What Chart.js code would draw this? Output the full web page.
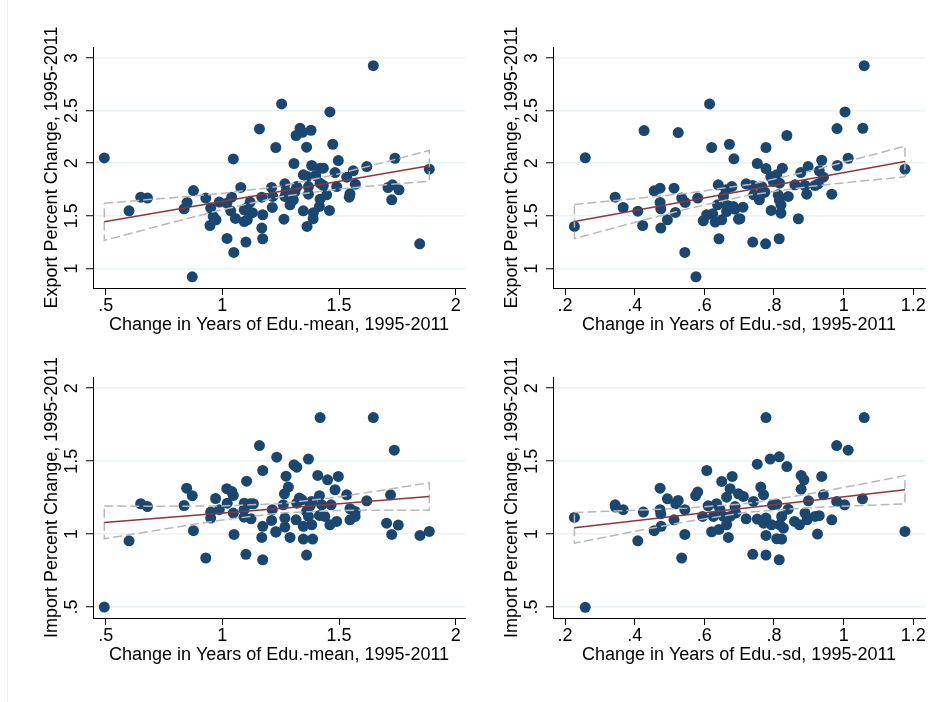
<!DOCTYPE html>
<html>
<head>
<meta charset="utf-8">
<script src="https://cdn.jsdelivr.net/npm/chart.js@4.4.1/dist/chart.umd.min.js"></script>
<style>
  html, body { margin: 0; padding: 0; background: #fff; }
  body { width: 932px; height: 702px; position: relative; overflow: hidden; }
  .edge { position: absolute; left: 7px; top: 0; width: 1px; height: 702px; background: #efefef; }
  canvas { position: absolute; }
</style>
</head>
<body>
<div class="edge"></div>
<canvas id="c1" width="472" height="351" style="left:0;top:0"></canvas>
<canvas id="c2" width="472" height="351" style="left:460px;top:0"></canvas>
<canvas id="c3" width="472" height="351" style="left:0;top:330px"></canvas>
<canvas id="c4" width="472" height="351" style="left:460px;top:330px"></canvas>
<script>
"use strict";

// tick values / labels
const xTicksMean = [0.5, 1, 1.5, 2];
const xLabelsMean = [".5", "1", "1.5", "2"];
const xTicksSd = [0.2, 0.4, 0.6, 0.8, 1, 1.2];
const xLabelsSd = [".2", ".4", ".6", ".8", "1", "1.2"];
const yTicksExport = [1, 1.5, 2, 2.5, 3];
const yLabelsExport = ["1", "1.5", "2", "2.5", "3"];
const yTicksImport = [0.5, 1, 1.5, 2];
const yLabelsImport = [".5", "1", "1.5", "2"];

// export vs edu mean
const expMeanX = [0.494, 0.600, 0.650, 0.679, 0.836, 0.849, 0.876, 0.871, 0.929, 0.950, 0.947, 0.961, 0.973, 0.987, 1.019, 1.040, 1.047, 1.036, 1.056, 1.020, 1.049, 1.079, 1.094, 1.104, 1.119, 1.129, 1.094, 1.107, 1.101, 1.159, 1.173, 1.169, 1.173, 1.169, 1.211, 1.216, 1.214, 1.229, 1.254,
  1.647, 1.461, 1.333, 1.316, 1.343, 1.380, 1.361, 1.473, 1.307, 1.383, 1.419, 1.433, 1.497, 1.483, 1.347, 1.364, 1.400, 1.533, 1.561, 1.619, 1.740, 1.887, 1.570, 1.268, 1.319, 1.369, 1.419, 1.433, 1.490, 1.273, 1.311, 1.369, 1.447, 1.547, 1.544, 1.268, 1.304, 1.290, 1.419, 1.416, 1.347, 1.390, 1.459, 1.264, 1.389, 1.363, 1.710, 1.729, 1.757, 1.726, 1.846];
const expMeanY = [2.050, 1.547, 1.677, 1.668, 1.566, 1.627, 1.740, 0.920, 1.668, 1.573, 1.408, 1.494, 1.462, 1.630, 1.620, 1.677, 2.040, 1.547, 1.475, 1.285, 1.152, 1.770, 1.557, 1.573, 1.630, 1.530, 1.446, 1.462, 1.250, 2.326, 1.510, 1.383, 1.282, 1.677, 1.770, 1.684, 1.580, 2.149, 2.563,
  2.927, 2.487, 2.332, 2.263, 2.294, 2.313, 2.152, 2.180, 1.997, 1.978, 1.953, 1.953, 2.025, 1.911, 1.889, 1.873, 1.883, 1.867, 1.927, 1.968, 2.047, 1.943, 1.800, 1.804, 1.778, 1.778, 1.810, 1.788, 1.778, 1.731, 1.731, 1.706, 1.699, 1.709, 1.677, 1.684, 1.652, 1.604, 1.658, 1.589, 1.547, 1.530, 1.551, 1.468, 1.472, 1.399, 1.769, 1.794, 1.747, 1.652, 1.234];
const expMeanFitX = [0.494, 1.887];
const expMeanFitY = [1.443, 1.975];
const expMeanCiX = [0.494, 0.8, 1.0, 1.25, 1.5, 1.7, 1.887];
const expMeanCiLo = [1.266, 1.446, 1.559, 1.682, 1.755, 1.796, 1.829];
const expMeanCiHi = [1.620, 1.674, 1.713, 1.782, 1.899, 2.012, 2.121];

// export vs edu sd
const expSdX = [0.227, 0.258, 0.344, 0.367, 0.409, 0.423, 0.427, 0.456, 0.473, 0.473, 0.475, 0.475, 0.494, 0.513, 0.517, 0.525, 0.535, 0.545, 0.544, 0.576, 0.581, 0.597, 0.607, 0.615, 0.621, 0.624, 0.631, 0.640, 0.638, 0.642, 0.650, 0.655, 0.662, 0.664, 0.666, 0.672, 0.679, 0.685, 0.688, 0.698,
  1.059, 1.004, 0.981, 1.055, 0.837, 0.777, 0.752, 0.777, 0.824, 0.877, 0.898, 0.937, 1.013, 0.982, 1.176, 0.930, 0.942, 0.791, 0.808, 0.798, 0.720, 0.739, 0.765, 0.816, 0.860, 0.889, 0.918, 0.927, 0.765, 0.774, 0.742, 0.758, 0.812, 0.815, 0.841, 0.894, 0.966, 0.820, 0.683, 0.711, 0.702, 0.792, 0.820, 0.870, 0.739, 0.776, 0.815];
const expSdY = [1.399, 2.051, 1.677, 1.579, 1.544, 1.408, 2.310, 1.737, 1.763, 1.627, 1.566, 1.383, 1.462, 1.763, 1.532, 2.291, 1.668, 1.627, 1.152, 0.921, 1.668, 1.453, 1.510, 2.563, 2.149, 1.519, 1.440, 1.794, 1.604, 1.282, 1.462, 1.684, 1.747, 1.541, 1.598, 2.180, 1.778, 2.041, 1.563, 1.468,
  2.927, 2.487, 2.329, 2.332, 2.263, 2.149, 1.997, 1.949, 1.953, 1.911, 1.968, 2.028, 2.047, 1.978, 1.943, 1.927, 1.867, 1.873, 1.889, 1.826, 1.804, 1.788, 1.778, 1.810, 1.794, 1.788, 1.788, 1.804, 1.715, 1.725, 1.699, 1.652, 1.699, 1.652, 1.684, 1.706, 1.706, 1.604, 1.589, 1.582, 1.472, 1.551, 1.525, 1.472, 1.250, 1.234, 1.282];
const expSdFitX = [0.227, 1.176];
const expSdFitY = [1.446, 2.016];
const expSdCiX = [0.227, 0.4, 0.55, 0.73, 0.9, 1.05, 1.176];
const expSdCiLo = [1.284, 1.437, 1.566, 1.698, 1.778, 1.830, 1.870];
const expSdCiHi = [1.608, 1.663, 1.714, 1.798, 1.923, 2.051, 2.162];

// import vs edu mean
const impMeanX = [0.494, 0.600, 0.650, 0.679, 0.836, 0.847, 0.871, 0.876, 0.929, 0.950, 0.950, 0.971, 0.987, 1.019, 1.040, 1.047, 1.021, 1.047, 1.050, 1.104, 1.094, 1.119, 1.133, 1.093, 1.093, 1.123, 1.159, 1.173, 1.173, 1.169, 1.101, 1.173, 1.214, 1.211, 1.229, 1.233,
  1.419, 1.647, 1.737, 1.307, 1.319, 1.369, 1.273, 1.409, 1.451, 1.497, 1.283, 1.483, 1.266, 1.533, 1.619, 1.721, 1.330, 1.341, 1.383, 1.416, 1.261, 1.319, 1.376, 1.426, 1.466, 1.361, 1.547, 1.569, 1.416, 1.439, 1.369, 1.268, 1.316, 1.569, 1.547, 1.383, 1.347, 1.461, 1.490, 1.268, 1.230, 1.290, 1.347, 1.387, 1.361, 1.704, 1.754, 1.726, 1.847, 1.887];
const impMeanY = [0.500, 0.954, 1.208, 1.189, 1.196, 1.315, 1.263, 1.023, 0.836, 1.151, 1.110, 1.244, 1.167, 1.311, 1.292, 1.265, 1.212, 1.144, 0.998, 1.363, 1.212, 1.208, 1.208, 1.167, 1.116, 1.105, 1.607, 1.436, 1.053, 0.977, 0.861, 0.824, 1.167, 1.094, 1.016, 1.527,
  1.799, 1.799, 1.575, 1.475, 1.459, 1.514, 1.397, 1.402, 1.372, 1.395, 1.322, 1.304, 1.276, 1.269, 1.228, 1.269, 1.247, 1.235, 1.224, 1.263, 1.201, 1.212, 1.194, 1.201, 1.201, 1.155, 1.174, 1.155, 1.128, 1.121, 1.121, 1.110, 1.098, 1.121, 1.098, 1.064, 1.053, 1.064, 1.087, 1.048, 1.014, 0.977, 0.966, 0.966, 0.856, 1.075, 1.062, 0.998, 0.991, 1.018];
const impMeanFitX = [0.494, 1.887];
const impMeanFitY = [1.080, 1.258];
const impMeanCiX = [0.494, 0.8, 1.0, 1.25, 1.5, 1.7, 1.887];
const impMeanCiLo = [0.968, 1.047, 1.097, 1.145, 1.162, 1.164, 1.164];
const impMeanCiHi = [1.192, 1.191, 1.193, 1.209, 1.255, 1.304, 1.352];

// import vs edu sd
const impSdX = [0.227, 0.258, 0.344, 0.345, 0.367, 0.409, 0.425, 0.456, 0.473, 0.473, 0.475, 0.476, 0.494, 0.513, 0.518, 0.525, 0.535, 0.544, 0.544, 0.575, 0.581, 0.607, 0.595, 0.611, 0.621, 0.626, 0.635, 0.642, 0.650, 0.645, 0.655, 0.664, 0.674, 0.680, 0.669, 0.664, 0.674, 0.688, 0.698, 0.690,
  0.777, 1.059, 0.980, 1.013, 0.815, 0.789, 0.752, 0.837, 0.878, 0.886, 0.937, 0.762, 0.770, 0.878, 0.712, 0.942, 0.899, 0.741, 0.980, 1.003, 1.054, 1.176, 0.796, 0.808, 0.841, 0.720, 0.752, 0.770, 0.777, 0.793, 0.822, 0.827, 0.817, 0.859, 0.873, 0.889, 0.895, 0.918, 0.930, 0.966, 0.777, 0.808, 0.822, 0.925, 0.739, 0.777, 0.815];
const impSdY = [1.114, 0.498, 1.201, 1.185, 1.167, 0.954, 1.151, 1.023, 1.315, 1.167, 1.139, 1.053, 1.242, 1.098, 1.208, 1.231, 0.836, 1.167, 0.998, 1.263, 1.288, 1.436, 1.121, 1.194, 1.016, 1.121, 1.208, 1.032, 1.361, 1.167, 1.121, 1.253, 1.311, 1.395, 0.977, 1.064, 1.121, 1.189, 1.276, 1.144,
  1.799, 1.799, 1.607, 1.575, 1.530, 1.514, 1.479, 1.463, 1.402, 1.372, 1.395, 1.322, 1.269, 1.308, 1.258, 1.269, 1.228, 1.224, 1.224, 1.201, 1.242, 1.018, 1.201, 1.205, 1.171, 1.105, 1.103, 1.075, 1.110, 1.064, 1.121, 1.041, 1.064, 1.087, 1.064, 1.144, 1.098, 1.121, 1.126, 1.098, 0.991, 0.968, 0.966, 1.000, 0.861, 0.856, 0.824];
const impSdFitX = [0.227, 1.176];
const impSdFitY = [1.043, 1.304];
const impSdCiX = [0.227, 0.4, 0.55, 0.72, 0.9, 1.05, 1.176];
const impSdCiLo = [0.938, 1.019, 1.086, 1.149, 1.181, 1.196, 1.207];
const impSdCiHi = [1.148, 1.163, 1.178, 1.209, 1.275, 1.342, 1.401];

const FONT = "'Liberation Sans', Arial, Helvetica, sans-serif";
const NAVY = "#1a476f";
const MAROON = "#90353b";

function pts(xs, ys) {
  return xs.map((x, i) => ({ x: x, y: ys[i] }));
}

// closed outline: upper band left->right, lower band right->left, back to start
function ciLoop(xs, lo, hi) {
  const out = pts(xs, hi);
  for (let i = xs.length - 1; i >= 0; i--) out.push({ x: xs[i], y: lo[i] });
  out.push({ x: xs[0], y: hi[0] });
  return out;
}

function makePanel(id, cfg) {
  const ctx = document.getElementById(id);
  return new Chart(ctx, {
    type: "scatter",
    data: {
      datasets: [
        {
          data: pts(cfg.fitX, cfg.fitY),
          showLine: true,
          borderColor: MAROON,
          borderWidth: 1.5,
          pointRadius: 0,
          order: 0,
        },
        {
          data: ciLoop(cfg.ciX, cfg.ciLo, cfg.ciHi),
          showLine: true,
          borderColor: "#b8b8b8",
          borderWidth: 1.5,
          borderDash: [9, 4],
          pointRadius: 0,
          order: 1,
        },
        {
          data: pts(cfg.xs, cfg.ys),
          pointRadius: 5.5,
          pointBackgroundColor: NAVY,
          pointBorderWidth: 0,
          borderColor: NAVY,
          order: 2,
        },
      ],
    },
    options: {
      responsive: false,
      animation: false,
      devicePixelRatio: 1,
      layout: { padding: { top: 47, right: 7, left: 0, bottom: 0 } },
      plugins: { legend: { display: false }, tooltip: { enabled: false } },
      scales: {
        x: {
          type: "linear",
          min: cfg.xMin,
          max: cfg.xMax,
          afterBuildTicks: (s) => { s.ticks = cfg.xTicks.map((v) => ({ value: v })); },
          afterFit: (s) => { s.height = 63; },
          grid: { drawOnChartArea: false, drawTicks: true, tickLength: 7, tickColor: "#000", tickWidth: 1 },
          border: { display: true, color: "#000", width: 1 },
          ticks: {
            autoSkip: false, minRotation: 0, maxRotation: 0, padding: 0, color: "#000",
            font: { family: FONT, size: 18 },
            callback: (v, i) => cfg.xLabels[i],
          },
          title: {
            display: true, text: cfg.xTitle, color: "#000",
            font: { family: FONT, size: 18 },
            padding: { top: 0, bottom: 15 },
          },
        },
        y: {
          type: "linear",
          min: cfg.yMin,
          max: cfg.yMax,
          afterBuildTicks: (s) => { s.ticks = cfg.yTicks.map((v) => ({ value: v })); },
          afterFit: (s) => { s.width = 93; },
          grid: { color: "#eaf2f3", lineWidth: 1.5, drawTicks: true, tickLength: 7, tickColor: "#000", tickWidth: 1 },
          border: { display: true, color: "#000", width: 1 },
          ticks: {
            autoSkip: false, minRotation: 90, maxRotation: 90, crossAlign: "center", padding: 1.5, color: "#000",
            font: { family: FONT, size: 18 },
            callback: (v, i) => cfg.yLabels[i],
          },
          title: {
            display: true, text: cfg.yTitle, color: "#000",
            font: { family: FONT, size: 18 },
            padding: { top: 41, bottom: 0 },
          },
        },
      },
    },
  });
}

const meanRange = { xMin: 0.4456, xMax: 2.04, xTicks: xTicksMean, xLabels: xLabelsMean, xTitle: "Change in Years of Edu.-mean, 1995-2011" };
const sdRange = { xMin: 0.1655, xMax: 1.2336, xTicks: xTicksSd, xLabels: xLabelsSd, xTitle: "Change in Years of Edu.-sd, 1995-2011" };
const expRange = { yMin: 0.814, yMax: 3.104, yTicks: yTicksExport, yLabels: yLabelsExport, yTitle: "Export Percent Change, 1995-2011" };
const impRange = { yMin: 0.4247, yMax: 2.077, yTicks: yTicksImport, yLabels: yLabelsImport, yTitle: "Import Percent Change, 1995-2011" };

makePanel("c1", Object.assign({}, meanRange, expRange, {
  xs: expMeanX, ys: expMeanY, fitX: expMeanFitX, fitY: expMeanFitY, ciX: expMeanCiX, ciLo: expMeanCiLo, ciHi: expMeanCiHi,
}));
makePanel("c2", Object.assign({}, sdRange, expRange, {
  xs: expSdX, ys: expSdY, fitX: expSdFitX, fitY: expSdFitY, ciX: expSdCiX, ciLo: expSdCiLo, ciHi: expSdCiHi,
}));
makePanel("c3", Object.assign({}, meanRange, impRange, {
  xs: impMeanX, ys: impMeanY, fitX: impMeanFitX, fitY: impMeanFitY, ciX: impMeanCiX, ciLo: impMeanCiLo, ciHi: impMeanCiHi,
}));
makePanel("c4", Object.assign({}, sdRange, impRange, {
  xs: impSdX, ys: impSdY, fitX: impSdFitX, fitY: impSdFitY, ciX: impSdCiX, ciLo: impSdCiLo, ciHi: impSdCiHi,
}));
</script>
</body>
</html>
